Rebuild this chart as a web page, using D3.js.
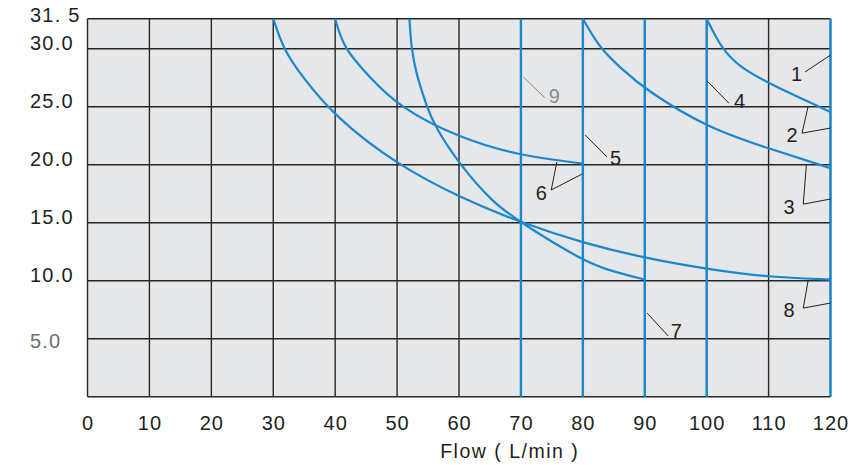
<!DOCTYPE html>
<html>
<head>
<meta charset="utf-8">
<script src="https://cdn.jsdelivr.net/npm/d3@7"></script>
<style>
  html, body { margin: 0; padding: 0; background: #ffffff; }
  svg { display: block; }
  text { font-family: "Liberation Sans", Arial, Helvetica, sans-serif; fill: #231f20; }
</style>
</head>
<body>
<svg id="chart" width="848" height="465"></svg>
<script>
// ---------- data ----------
const flowTicks = [0, 10, 20, 30, 40, 50, 60, 70, 80, 90, 100, 110, 120];
const pressureTicks = [5, 10, 15, 20, 25, 30, 31.5];
const pressureLabels = ["5.0", "10.0", "15.0", "20.0", "25.0", "30.0", "31. 5"];
const xLabel = "Flow ( L/min )";

// vertical flow-limit lines (curves 9, 5, 7, 4, 1)
const limitFlows = [70, 80, 90, 100, 120];

// pressure–flow curves: [flow, pressure]
const curveA = [[30, 31.5], [31.6, 30], [34.5, 27.7], [40, 24.1], [50, 20.0], [60, 17.2], [70, 15.0], [80, 13.25], [90, 11.95], [100, 11.0], [110, 10.3], [120, 10.1]];
const curveB = [[40, 31.5], [41.4, 30], [45.5, 27.6], [50.2, 25.0], [60, 22.3], [70, 20.75], [80, 20.1]];
const curveC = [[52, 31.5], [52.3, 30], [53.1, 27.8], [54.8, 25.0], [56.1, 23.3], [60.1, 20.0], [65.5, 16.7], [70, 15.0], [80, 11.7], [85, 10.75], [90, 10.1]];
const curveD = [[80, 31.5], [82.8, 30], [86, 28.4], [90, 26.5], [100, 23.2], [110, 21.4], [120, 19.7]];
const curveE = [[100, 31.5], [102.4, 30], [105.4, 28.4], [110, 27.0], [120, 24.55]];

// curve number annotations (data coordinates)
const labelTexts   = ["1", "2", "3", "4", "5", "6", "7", "8", "9"];
const labelCenters = [[114.5, 27.8], [113.8, 22.55], [113.3, 16.4], [105.3, 25.5], [85.3, 20.6], [73.3, 17.6], [95.1, 5.7], [113.3, 7.53], [75.4, 25.9]];
const leaderLines  = [
  [[115.9, 28.0], [120, 29.45]],
  [[116.4, 25.05], [115.4, 22.72], [120, 23.16]],
  [[116.1, 19.97], [115.6, 16.6], [120, 17.04]],
  [[100.1, 27.2], [103.6, 25.3]],
  [[80.4, 22.55], [83.9, 20.67]],
  [[75.8, 20.23], [74.9, 17.82], [79.9, 19.2]],
  [[90.4, 7.2], [93.8, 5.23]],
  [[116.4, 10.05], [115.6, 7.64], [120, 8.07]],
  [[70.4, 27.56], [73.9, 25.75]]
];
const mutedLabel = "9";

// ---------- scales ----------
const svg = d3.select("#chart");
const x = d3.scaleLinear().domain([0, 120]).range([87.5, 830.5]);
const y = d3.scaleLinear().domain([0, 30, 31.5]).range([396.7, 48.7, 18.7]);

const BLUE = "#1b87cf";
const GRID = "#262626";

// plot background
svg.append("rect")
  .attr("x", x(0)).attr("y", y(31.5))
  .attr("width", x(120) - x(0)).attr("height", y(0) - y(31.5))
  .attr("fill", "#e6e7e9");

// grid
const grid = svg.append("g");
grid.selectAll("line.v").data(flowTicks).join("line")
  .attr("x1", d => x(d)).attr("x2", d => x(d))
  .attr("y1", y(31.5)).attr("y2", y(0))
  .attr("stroke", GRID).attr("stroke-width", 1.4);
grid.selectAll("line.h").data([0, 5, 10, 15, 20, 25, 30, 31.5]).join("line")
  .attr("x1", x(0)).attr("x2", x(120))
  .attr("y1", d => y(d)).attr("y2", d => y(d))
  .attr("stroke", GRID).attr("stroke-width", 1.4);

// blue vertical limit lines
svg.append("g").selectAll("line").data(limitFlows).join("line")
  .attr("x1", d => x(d)).attr("x2", d => x(d))
  .attr("y1", y(31.5)).attr("y2", y(0))
  .attr("stroke", BLUE).attr("stroke-width", 2.4);

// curves
const line = d3.line().x(d => x(d[0])).y(d => y(d[1])).curve(d3.curveBasis);
svg.append("g").selectAll("path").data([curveA, curveB, curveC, curveD, curveE]).join("path")
  .attr("d", line)
  .attr("fill", "none")
  .attr("stroke", BLUE)
  .attr("stroke-width", 2.2);

// leader lines
const leader = d3.line().x(d => x(d[0])).y(d => y(d[1]));
svg.append("g").selectAll("path").data(leaderLines).join("path")
  .attr("d", leader)
  .attr("fill", "none")
  .attr("stroke", (d, i) => labelTexts[i] === mutedLabel ? "#8a8a8a" : "#231f20")
  .attr("stroke-width", 1);

// curve labels
svg.append("g").selectAll("text").data(labelTexts).join("text")
  .attr("x", (d, i) => x(labelCenters[i][0]))
  .attr("y", (d, i) => y(labelCenters[i][1]))
  .attr("dy", "0.36em")
  .attr("text-anchor", "middle")
  .attr("font-size", 20)
  .style("fill", d => d === mutedLabel ? "#8a8a8a" : "#231f20")
  .text(d => d);

// x axis tick labels
const xAxis = d3.axisBottom(x).tickValues(flowTicks).tickSize(0).tickPadding(19).tickFormat(d3.format("d"));
const gx = svg.append("g").attr("transform", `translate(0,${y(0)})`).call(xAxis);
gx.select(".domain").remove();
gx.selectAll("text")
  .attr("font-size", 20)
  .style("font-family", '"Liberation Sans", Arial, sans-serif')
  .style("letter-spacing", "1px")
  .style("fill", "#231f20");

// x axis title
svg.append("text")
  .attr("x", x(68.2)).attr("y", 458)
  .attr("text-anchor", "middle")
  .attr("font-size", 19.5)
  .style("letter-spacing", "1.5px")
  .text(xLabel);

// y tick labels (left aligned)
svg.append("g").selectAll("text").data(pressureTicks).join("text")
  .attr("x", 30)
  .attr("y", d => y(d))
  .attr("dy", d => d === 5 ? "0.45em" : (d === 31.5 ? "0.18em" : "0.06em"))
  .attr("font-size", 20)
  .style("letter-spacing", "1.2px")
  .style("fill", d => d === 5 ? "#6d6e70" : "#231f20")
  .text((d, i) => pressureLabels[i]);
</script>
</body>
</html>
